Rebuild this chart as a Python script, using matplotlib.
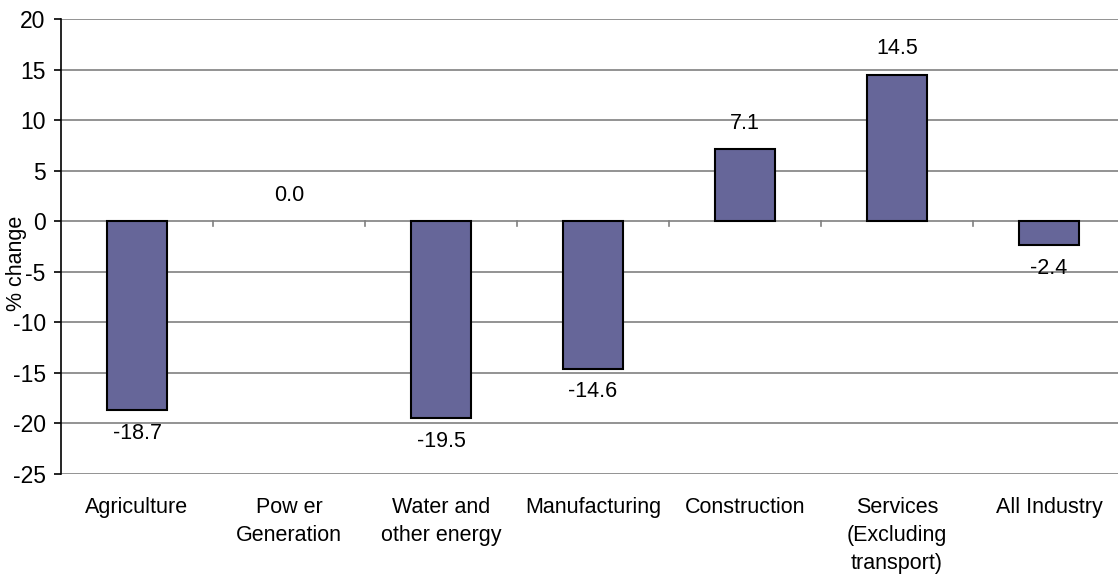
import numpy as np
import matplotlib.pyplot as plt

# 各行业变化百分比
categories = ['Agriculture', 'Pow er\nGeneration', 'Water and\nother energy',
              'Manufacturing', 'Construction', 'Services\n(Excluding\ntransport)',
              'All Industry']
values = [-18.7, 0.0, -19.5, -14.6, 7.1, 14.5, -2.4]
yticks = [20, 15, 10, 5, 0, -5, -10, -15, -20, -25]

plt.rcParams['font.family'] = ['Liberation Sans', 'DejaVu Sans']
fs = 15.5

W, H = 1118, 575
fig = plt.figure(figsize=(W / 100, H / 100), dpi=100)
# 坐标区右边超出画布一点
ax = fig.add_axes([61 / W, 1 - 474 / H, 1064 / W, 455 / H])

x = np.arange(len(values))
# 值为0的柱子不画边框
lw = [0 if v == 0 else 1.5 for v in values]
ax.bar(x, values, width=0.4, color='#666699', edgecolor='black', linewidth=lw, zorder=3)

ax.set_xlim(-0.5, len(values) - 0.5)
ax.set_ylim(-25, 20)
ax.set_yticks(yticks)
ax.set_yticklabels([str(t) for t in yticks], fontsize=fs + 1)
ax.yaxis.grid(True, color='#808080', linewidth=1.2, zorder=0)

for s in ['top', 'right', 'bottom']:
    ax.spines[s].set_visible(False)
ax.spines['left'].set_color('black')
ax.spines['left'].set_linewidth(1.2)
ax.tick_params(axis='y', length=5, width=1.2, color='black', pad=6)

# 分类标签放在图下方, 刻度线画在0线上
ax.set_xticks([])
for i in range(1, len(values)):
    ax.plot([i - 0.5, i - 0.5], [0, -0.5], color='#808080', lw=1.2, zorder=2,
            clip_on=False)
for i, c in enumerate(categories):
    ax.text(i, -27.3, c, ha='center', va='top', fontsize=fs, linespacing=1.42)

# 数据标签
for i, v in enumerate(values):
    off = -23 if v < 0 else 26
    ax.annotate(f'{v:.1f}', (i, v), xytext=(0, off), textcoords='offset pixels',
                ha='center', va='center', fontsize=fs, zorder=4)

ax.set_ylabel('% change', fontsize=fs)
ax.yaxis.set_label_coords(-0.032, 0.464)

fig.savefig('out.png', dpi=100)
